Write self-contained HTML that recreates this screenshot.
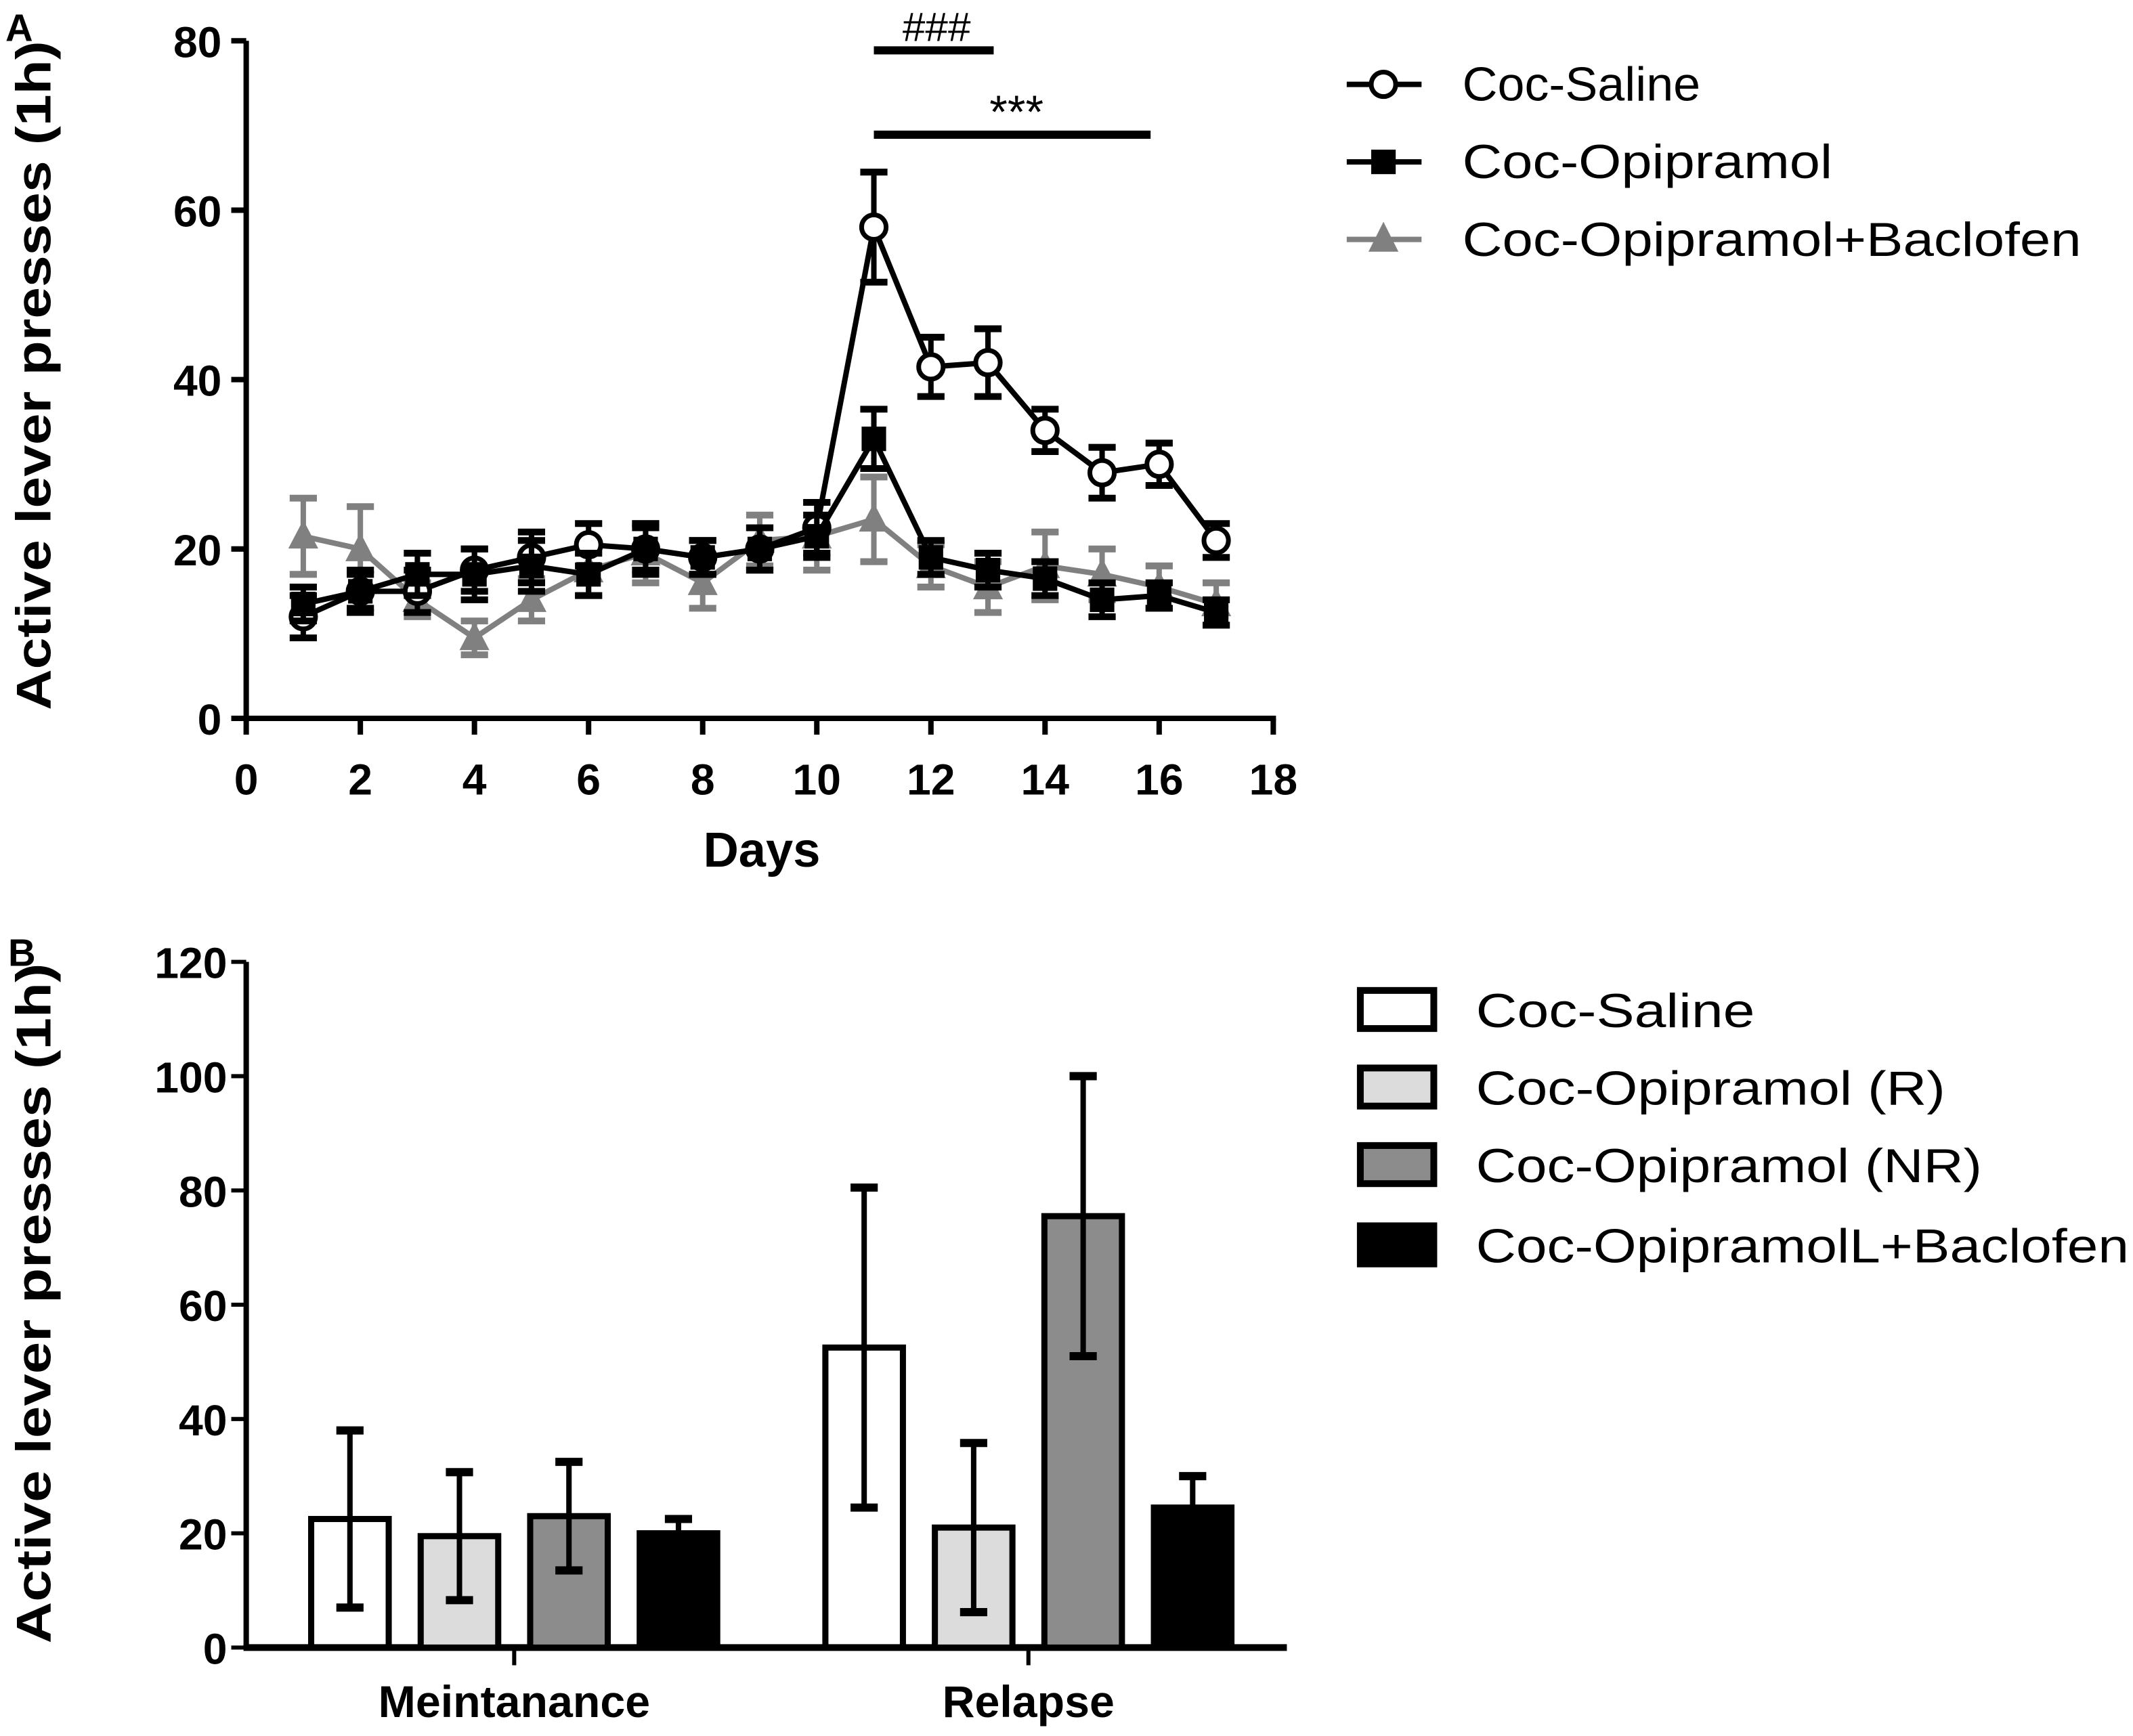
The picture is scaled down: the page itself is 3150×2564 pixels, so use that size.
<!DOCTYPE html>
<html><head><meta charset="utf-8"><style>
html,body{margin:0;padding:0;background:#fff;}
svg{display:block;font-family:"Liberation Sans",Arial,sans-serif;}
</style></head><body>
<svg id="fig" xmlns="http://www.w3.org/2000/svg" width="3150" height="2564" viewBox="0 0 1568 1276" preserveAspectRatio="none">
<rect x="0" y="0" width="1568" height="1276" fill="#fff"/>
<g id="pa"></g>
<g id="pb"></g>
</svg>
<script>
// ---------- Panel A data ----------
const days = [1,2,3,4,5,6,7,8,9,10,11,12,13,14,15,16,17];
const salineMean = [12,15,15,17.5,19,20.5,20,19,20,22.5,58,41.5,42,34,29,30,21];
const salineErr  = [2.5,2.5,2.5,2.5,3,2.5,2.5,2,2.5,3,6.5,3.5,4,2.5,3,2.5,2];
const opiMean = [13.5,15,17,17,18,17,20,19,20,21.5,33,19,17.5,16.5,14,14.5,12.5];
const opiErr  = [2,2,2.5,3,3,2.5,3,2,2.5,2.5,3.5,2,2,2,2,1.5,1.5];
const bacMean = [21.5,20,14,9.5,14,17.5,19.5,16,21,21.5,23.5,18,15.5,18,17,15.5,13.5];
const bacErr  = [4.5,5,2,2,2.5,3,3.5,3,3,4,5,2.5,3,4,3,2.5,2.5];
const xTicksA = [0,2,4,6,8,10,12,14,16,18];
const yTicksA = [0,20,40,60,80];

// ---------- Panel B data ----------
const groupsB = ["Meintanance","Relapse"];
const seriesB = ["Coc-Saline","Coc-Opipramol (R)","Coc-Opipramol (NR)","Coc-OpipramolL+Baclofen"];
const bMaint = [22.5,19.5,23,20];
const bMaintErr = [15.5,11.2,9.5,2.5];
const bRelapse = [52.5,21,75.5,24.5];
const bRelapseErr = [28,14.8,24.5,5.5];
const yTicksB = [0,20,40,60,80,100,120];

const NS="http://www.w3.org/2000/svg";
function mk(parent,tag,attrs){const e=document.createElementNS(NS,tag);for(const k in attrs)e.setAttribute(k,attrs[k]);parent.appendChild(e);return e;}

// ---------- Panel A ----------
const pa=document.getElementById('pa');
const ax=v=>181+(v-0)*(936-181)/18;
const ay=v=>528-(v)*(528-30)/80;

let t=mk(pa,'text',{x:4,y:30,'font-size':28,'font-weight':'bold'});t.textContent='A';



let l=mk(pa,'line',{x1:181,y1:ay(80),x2:181,y2:ay(0)+2,stroke:'#000','stroke-width':4});


l=mk(pa,'line',{x1:179,y1:528,x2:ax(18)+2,y2:528,stroke:'#000','stroke-width':4});


yTicksA.forEach(v=>{
  const tk=mk(pa,'line',{x1:170,y1:ay(v),x2:181,y2:ay(v),stroke:'#000','stroke-width':4});
  
  
  const tx=mk(pa,'text',{x:163,y:ay(v)+12,'text-anchor':'end','font-size':32,'font-weight':'bold'});
  tx.textContent=v;
  
  
});
xTicksA.forEach(v=>{
  const tk=mk(pa,'line',{x1:ax(v),y1:528,x2:ax(v),y2:540,stroke:'#000','stroke-width':4});
  
  
  const tx=mk(pa,'text',{x:ax(v),y:584,'text-anchor':'middle','font-size':32,'font-weight':'bold'});
  tx.textContent=v;
  
  
});
t=mk(pa,'text',{x:560,y:637,'text-anchor':'middle','font-size':36,'font-weight':'bold'});t.textContent='Days';


t=mk(pa,'text',{x:0,y:0,'text-anchor':'middle','font-size':36,'font-weight':'bold',transform:'translate(37,276) rotate(-90)',textLength:492,lengthAdjust:'spacingAndGlyphs'});t.textContent='Active lever presses (1h)';



function drawSeries(mean,err,color,marker,name,layer){
  const g=mk(layer,'g',{});
  
  
  days.forEach((d,i)=>{
    const x=ax(d);
    const e1=mk(g,'line',{x1:x,y1:ay(mean[i]+err[i]),x2:x,y2:ay(mean[i]-err[i]),stroke:color,'stroke-width':4});
    
    
    [mean[i]+err[i],mean[i]-err[i]].forEach(v=>{
      const c=mk(g,'line',{x1:x-10,y1:ay(v),x2:x+10,y2:ay(v),stroke:color,'stroke-width':5});
      
      
    });
  });
  const pts=days.map((d,i)=>ax(d)+','+ay(mean[i])).join(' ');
  const pl=mk(g,'polyline',{points:pts,fill:'none',stroke:color,'stroke-width':4});
  
  
  days.forEach((d,i)=>{
    const x=ax(d),y=ay(mean[i]);let m;
    if(marker==='circle') m=mk(g,'circle',{cx:x,cy:y,r:9,fill:'#fff',stroke:color,'stroke-width':3.5});
    else if(marker==='square') m=mk(g,'rect',{x:x-9,y:y-9,width:18,height:18,fill:color});
    else m=mk(g,'polygon',{points:`${x},${y-12} ${x-11},${y+9} ${x+11},${y+9}`,fill:color});
    
    
  });
}
drawSeries(bacMean,bacErr,'#808080','triangle','baclofen',pa);
drawSeries(salineMean,salineErr,'#000','circle','saline',pa);
drawSeries(opiMean,opiErr,'#000','square','opipramol',pa);

// significance
l=mk(pa,'line',{x1:ax(11),y1:37,x2:ax(13.1),y2:37,stroke:'#000','stroke-width':6});


t=mk(pa,'text',{x:ax(12.1),y:30,'text-anchor':'middle','font-size':30});t.textContent='###';


l=mk(pa,'line',{x1:ax(11),y1:99,x2:ax(15.85),y2:99,stroke:'#000','stroke-width':6});


t=mk(pa,'text',{x:ax(13.5),y:94,'text-anchor':'middle','font-size':34});t.textContent='***';



// legend A
const legA=[['Coc-Saline','#000','circle',62,175],['Coc-Opipramol','#000','square',119,272],['Coc-Opipramol+Baclofen','#808080','triangle',176,455]];
legA.forEach(([lab,col,mkr,y,w])=>{
  const g=mk(pa,'g',{});
  
  
  mk(g,'line',{x1:990,y1:y,x2:1045,y2:y,stroke:col,'stroke-width':4});
  if(mkr==='circle') mk(g,'circle',{cx:1017,cy:y,r:9,fill:'#fff',stroke:col,'stroke-width':3.5});
  else if(mkr==='square') mk(g,'rect',{x:1008,y:y-9,width:18,height:18,fill:col});
  else mk(g,'polygon',{points:`1017,${y-13} 1006,${y+9} 1028,${y+9}`,fill:col});
  const tx=mk(g,'text',{x:1075,y:y+12,'font-size':35,textLength:w,lengthAdjust:'spacingAndGlyphs'});tx.textContent=lab;
});

// ---------- Panel B ----------
const pb=document.getElementById('pb');
const by=v=>1211-v*(1211-707)/120;
const groupCenters=[378,756];
const barW=57, barStep=80.5;
t=mk(pb,'text',{x:6,y:710,'font-size':28,'font-weight':'bold'});t.textContent='B';


l=mk(pb,'line',{x1:181,y1:by(120),x2:181,y2:by(0),stroke:'#000','stroke-width':4});


l=mk(pb,'line',{x1:179,y1:1211,x2:946,y2:1211,stroke:'#000','stroke-width':5});


yTicksB.forEach(v=>{
  const tk=mk(pb,'line',{x1:170,y1:by(v),x2:181,y2:by(v),stroke:'#000','stroke-width':3});
  
  
  const tx=mk(pb,'text',{x:167,y:by(v)+12,'text-anchor':'end','font-size':32,'font-weight':'bold'});
  tx.textContent=v;
  
  
});
groupsB.forEach((gname,gi)=>{
  const tk=mk(pb,'line',{x1:groupCenters[gi],y1:1211,x2:groupCenters[gi],y2:1224,stroke:'#000','stroke-width':3});
  
  
  const tx=mk(pb,'text',{x:groupCenters[gi],y:1262,'text-anchor':'middle','font-size':33,'font-weight':'bold'});
  tx.textContent=gname;
  
  
});
t=mk(pb,'text',{x:0,y:0,'text-anchor':'middle','font-size':36,'font-weight':'bold',transform:'translate(37,958) rotate(-90)',textLength:500,lengthAdjust:'spacingAndGlyphs'});t.textContent='Active lever presses (1h)';


const fills=['#fff','#dcdcdc','#8c8c8c','#000'];
[[bMaint,bMaintErr],[bRelapse,bRelapseErr]].forEach(([vals,errs],gi)=>{
  vals.forEach((v,si)=>{
    const cx=groupCenters[gi]+(si-1.5)*barStep;
    const x=cx-barW/2;
    const r=mk(pb,'rect',{x:x,y:by(v),width:barW,height:by(0)-by(v),fill:fills[si],stroke:'#000','stroke-width':4.5,'fill-opacity':si===0?0:1});
    
    
    const eb2=mk(pb,'line',{x1:cx,y1:by(v+errs[si]),x2:cx,y2:by(v-errs[si]),stroke:'#000','stroke-width':4});
    
    
    [v+errs[si],v-errs[si]].forEach(ev=>{
      const c=mk(pb,'line',{x1:cx-10,y1:by(ev),x2:cx+10,y2:by(ev),stroke:'#000','stroke-width':6});
      
      
    });
  });
});
// legend B
const legBy=[742,799,856,915];
seriesB.forEach((lab,i)=>{
  const g=mk(pb,'g',{});
  
  
  mk(g,'rect',{x:1000,y:legBy[i]-14,width:54,height:28,fill:fills[i],stroke:'#000','stroke-width':5});
  const w=[205,345,372,480][i];
  const tx=mk(g,'text',{x:1085,y:legBy[i]+13,'font-size':35,textLength:w,lengthAdjust:'spacingAndGlyphs'});tx.textContent=lab;
});
</script>
</body></html>
